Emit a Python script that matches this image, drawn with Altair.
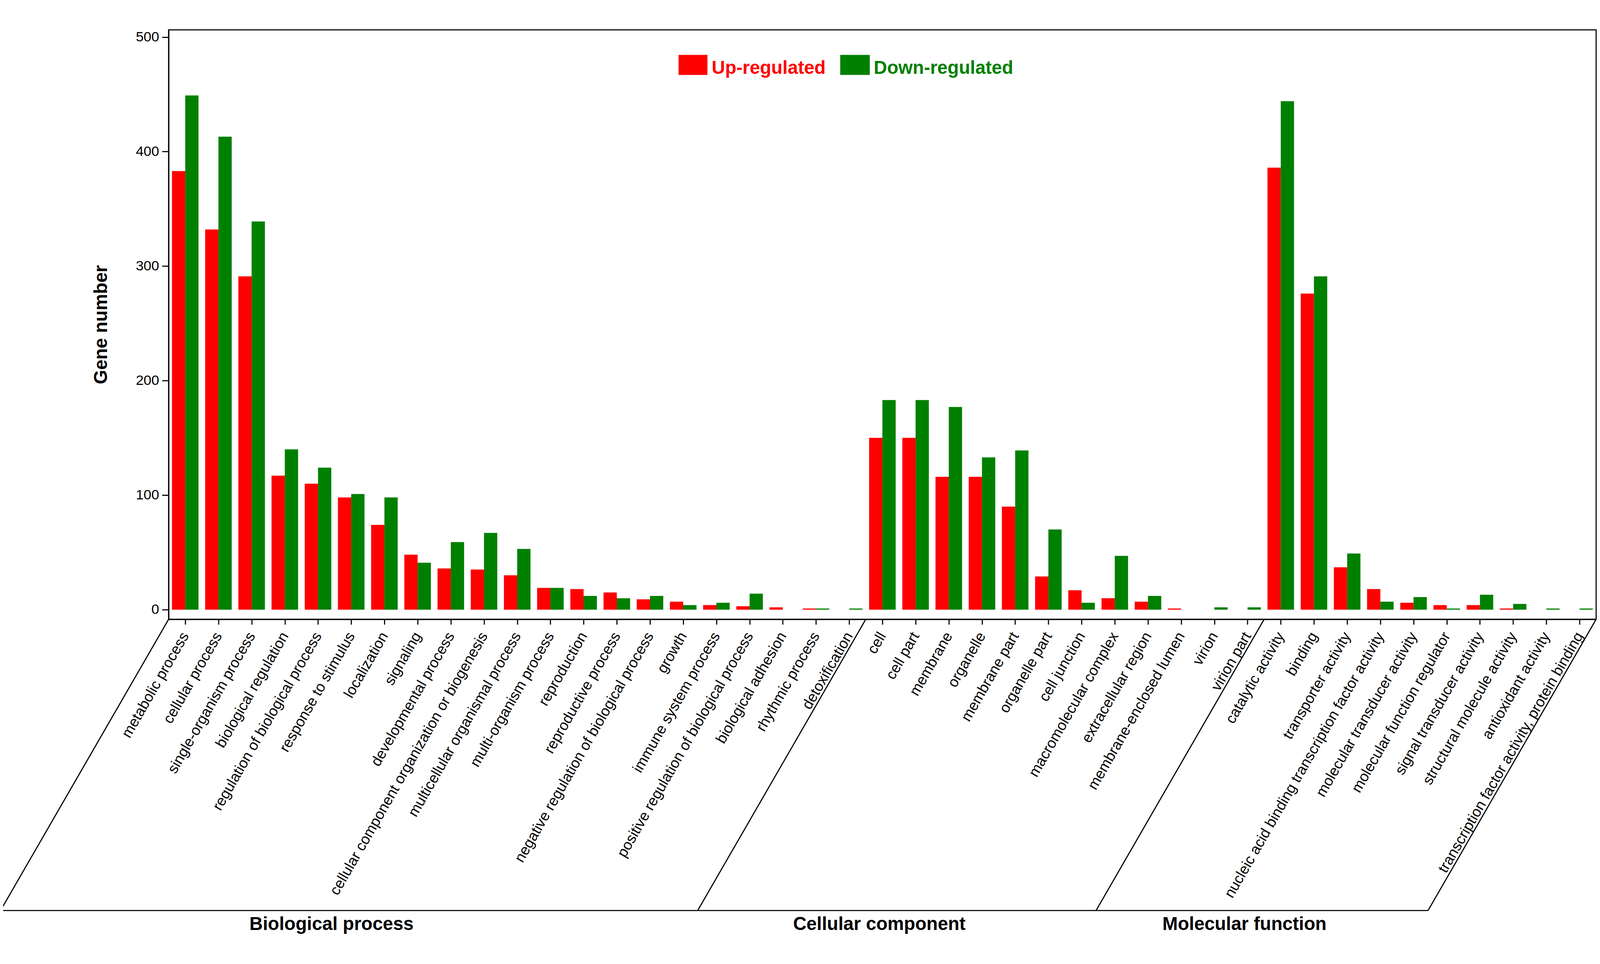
import json
import math
import altair as alt
import pandas as pd

# ---------------- data ----------------
bp_terms = [
    "metabolic process", "cellular process", "single-organism process",
    "biological regulation", "regulation of biological process",
    "response to stimulus", "localization", "signaling",
    "developmental process", "cellular component organization or biogenesis",
    "multicellular organismal process", "multi-organism process",
    "reproduction", "reproductive process",
    "negative regulation of biological process", "growth",
    "immune system process", "positive regulation of biological process",
    "biological adhesion", "rhythmic process", "detoxification",
]
bp_up = [383, 332, 291, 117, 110, 98, 74, 48, 36, 35, 30, 19, 18, 15, 9, 7, 4, 3, 2, 1, 0]
bp_down = [449, 413, 339, 140, 124, 101, 98, 41, 59, 67, 53, 19, 12, 10, 12, 4, 6, 14, 0, 1, 1]

cc_terms = [
    "cell", "cell part", "membrane", "organelle", "membrane part",
    "organelle part", "cell junction", "macromolecular complex",
    "extracellular region", "membrane-enclosed lumen", "virion", "virion part",
]
cc_up = [150, 150, 116, 116, 90, 29, 17, 10, 7, 1, 0, 0]
cc_down = [183, 183, 177, 133, 139, 70, 6, 47, 12, 0, 2, 2]

mf_terms = [
    "catalytic activity", "binding", "transporter activity",
    "nucleic acid binding transcription factor activity",
    "molecular transducer activity", "molecular function regulator",
    "signal transducer activity", "structural molecule activity",
    "antioxidant activity", "transcription factor activity, protein binding",
]
mf_up = [386, 276, 37, 18, 6, 4, 4, 1, 0, 0]
mf_down = [444, 291, 49, 7, 11, 1, 13, 5, 1, 1]

group_names = ["Biological process", "Cellular component", "Molecular function"]
series_names = ["Up-regulated", "Down-regulated"]
series_colors = ["#FF0000", "#008000"]
y_ticks = [0, 100, 200, 300, 400, 500]

# ---------------- layout ----------------
FONT = "Liberation Sans"
terms = bp_terms + cc_terms + mf_terms
up = bp_up + cc_up + mf_up
down = bp_down + cc_down + mf_down
n = len(terms)

PAD = {"left": 448, "top": 2, "right": 2, "bottom": 852}
W, H = 3864, 1595
X_MIN, X_MAX = -0.5, n - 0.5
Y_MIN, Y_MAX = -8.39, 506.3
px_x = W / (X_MAX - X_MIN)
px_y = H / (Y_MAX - Y_MIN)


def yd(dy):
    """pixels below plot top -> data units"""
    return Y_MAX - dy / px_y


BAR = 0.4
rows = []
for i, (t, u, d) in enumerate(zip(terms, up, down)):
    rows.append(dict(term=t, series=series_names[0], value=u, x0=i - BAR, x1=i))
    rows.append(dict(term=t, series=series_names[1], value=d, x0=i, x1=i + BAR))
bars_df = pd.DataFrame(rows)

x_scale = alt.Scale(domain=[X_MIN, X_MAX], nice=False, zero=False)
y_scale = alt.Scale(domain=[Y_MIN, Y_MAX], nice=False, zero=False)
c_scale = alt.Scale(domain=series_names, range=series_colors)

label_expr = "[" + ",".join(json.dumps(t) for t in terms) + "][datum.value]"

x_axis = alt.Axis(
    values=list(range(n)), labelExpr=label_expr, labelAngle=300,
    labelAlign="right", labelBaseline="middle", labelFontSize=40,
    labelLimit=2000, tickSize=14, labelPadding=24, labelOverlap=False,
    title=None)
y_axis = alt.Axis(
    values=y_ticks, title="Gene number", titleFontSize=50,
    titleFontWeight="bold", labelFontSize=38, tickSize=18,
    labelPadding=8, titlePadding=68)


def X(field):
    return alt.X(field, scale=x_scale, axis=x_axis)


def Y(field):
    return alt.Y(field, scale=y_scale, axis=y_axis)


bars = alt.Chart(bars_df).mark_bar().encode(
    x=X("x0:Q"), x2="x1:Q",
    y=Y("value:Q"), y2=alt.datum(0),
    color=alt.Color("series:N", scale=c_scale, legend=None),
)

# group separators (slanted at 60 degrees)
b1 = len(bp_terms) - 0.5
b2 = len(bp_terms) + len(cc_terms) - 0.5
bounds = [X_MIN, b1, b2, X_MAX]
y_bot = yd(2383)
drop_px = (Y_MIN - y_bot) * px_y
shift = drop_px / math.tan(math.radians(60)) / px_x
diag_df = pd.DataFrame({
    "x0": bounds + [X_MIN - shift],
    "x1": [b - shift for b in bounds] + [X_MAX - shift],
    "value": [Y_MIN] * 4 + [y_bot],
    "v2": [y_bot] * 5,
})
diag = alt.Chart(diag_df).mark_rule(color="black", strokeWidth=3).encode(
    x=X("x0:Q"), x2="x1:Q", y=Y("value:Q"), y2="v2:Q",
)

bots = [b - shift for b in bounds]
grp_df = pd.DataFrame({
    "name": group_names,
    "x0": [(bots[k] + bots[k + 1]) / 2 - 0.53 for k in range(3)],
    "value": [yd(2436)] * 3,
})
grp = alt.Chart(grp_df).mark_text(
    font=FONT, fontSize=50, fontWeight="bold", color="black",
    align="center", baseline="alphabetic").encode(
    x=X("x0:Q"), y=Y("value:Q"), text="name:N",
)

# in-plot legend
leg_df = pd.DataFrame({
    "series": series_names,
    "x0": [14.86, 19.73],
    "x1": [15.73, 20.62],
    "tx": [15.86, 20.74],
    "value": [yd(68)] * 2,
    "v2": [yd(122)] * 2,
    "ty": [yd(119)] * 2,
})
leg_rect = alt.Chart(leg_df).mark_rect().encode(
    x=X("x0:Q"), x2="x1:Q", y=Y("value:Q"), y2="v2:Q",
    color=alt.Color("series:N", scale=c_scale, legend=None),
)
leg_text = alt.Chart(leg_df).mark_text(
    font=FONT, fontSize=50, fontWeight="bold", align="left",
    baseline="alphabetic").encode(
    x=X("tx:Q"), y=Y("ty:Q"), text="series:N",
    color=alt.Color("series:N", scale=c_scale, legend=None),
)

chart = alt.layer(bars, diag, grp, leg_rect, leg_text).properties(
    width=W, height=H, padding=PAD, background="white",
    autosize=alt.AutoSizeParams(type="none"),
).configure_view(
    stroke="black", strokeWidth=3, fill="white",
).configure_axis(
    grid=False, domainColor="black", domainWidth=3, tickColor="black",
    tickWidth=3, labelColor="black", titleColor="black",
    labelFont=FONT, titleFont=FONT,
)

chart.save("out.html", embed_options={"renderer": "svg", "actions": False})
